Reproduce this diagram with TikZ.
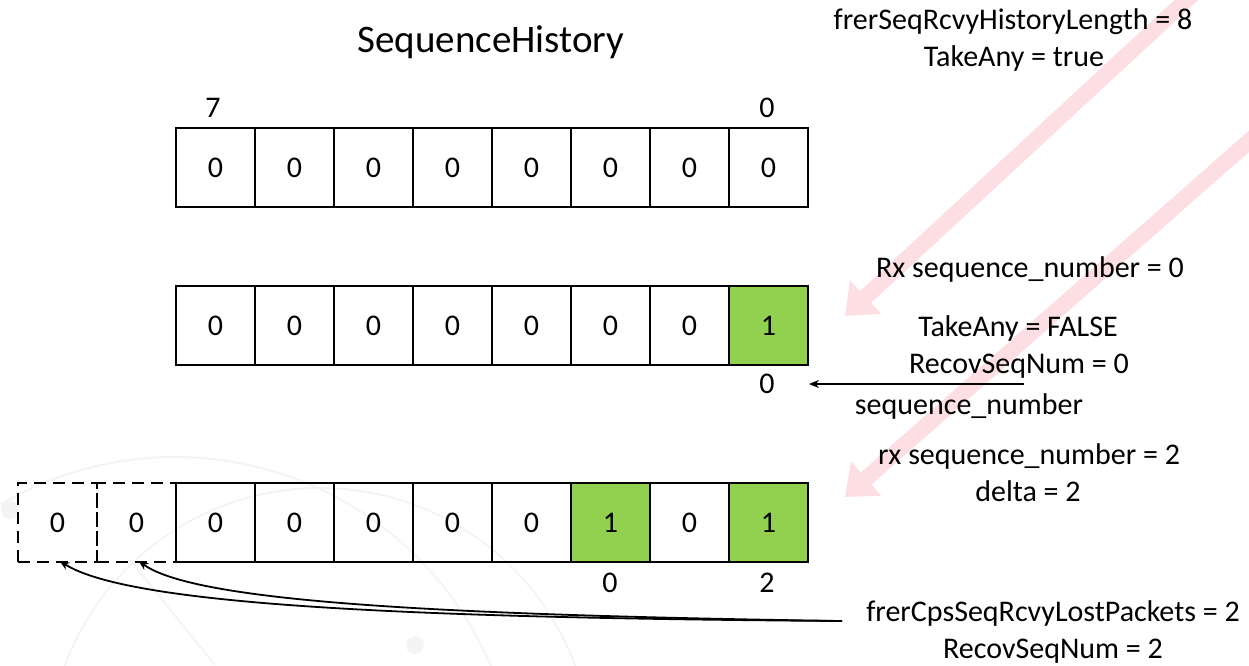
\documentclass[tikz,border=0pt]{standalone}
\usepackage{fontspec}
\setmainfont{Carlito}
\usetikzlibrary{arrows.meta}
\definecolor{cellgreen}{RGB}{146,208,80}
\definecolor{pinkarrow}{RGB}{252,222,227}
\definecolor{wmark}{RGB}{244,244,244}
\begin{document}
\begin{tikzpicture}[x=1pt,y=-1pt,
  cell/.style={draw, line width=1.6pt, minimum width=79pt, minimum height=79pt, inner sep=0pt,
    font=\fontsize{30}{37}\selectfont},
  dcell/.style={cell, dash pattern=on 12pt off 7pt},
  lbl/.style={inner sep=0pt, text height=21pt, text depth=6pt, font=\fontsize{30}{37}\selectfont},
  ttl/.style={inner sep=0pt, font=\fontsize{39}{46}\selectfont},
  pinkarr/.style={draw=pinkarrow, line width=16pt, -{Triangle[length=28pt,width=44pt]}, color=pinkarrow},
  curv/.style={draw, line width=1.8pt, -{Stealth[length=10pt,width=8pt]}},
  seqarr/.style={draw, line width=1.6pt, -{Stealth[length=10pt,width=8pt]}},
  wm/.style={draw=wmark, line width=2pt}
]
\useasboundingbox (0,0) rectangle (1249,665);

% faint background watermark
\begin{scope}
  \clip (0,0) rectangle (1249,665);
  \draw[wm] (175,800) circle[radius=343];
  \draw[wm] (320,760) circle[radius=272];
  \draw[wm] (130,560) -- (215,665);
  \fill[wmark] (10,510) circle[radius=9];
  \fill[wmark] (415,645) circle[radius=9];
\end{scope}

% pink arrows
\coordinate (p1s) at (1195,-8);
\coordinate (p1e) at (845,316);
\coordinate (p2s) at (1264,128);
\coordinate (p2e) at (845,497);
\draw[pinkarr] (p1s) -- (p1e);
\draw[pinkarr] (p2s) -- (p2e);

% title
\node[ttl] (title) at (491,42) {SequenceHistory};

% row 1
\foreach \i in {1,...,8}
  \node[cell] (a\i) at ({215.5+79*(\i-1)},167.5) {0};
\node[lbl] (a7lbl) at (213,110) {7};
\node[lbl] (a0lbl) at (767,110) {0};

% row 2
\foreach \i in {1,...,7}
  \node[cell] (b\i) at ({215.5+79*(\i-1)},325.5) {0};
\node[cell, fill=cellgreen] (b8) at ({215.5+79*7},325.5) {1};
\node[lbl] (b0lbl) at (767,386) {0};

% row 3
\node[dcell] (c1) at (57.5,522.5) {0};
\node[dcell] (c2) at (136.5,522.5) {0};
\foreach \i in {3,...,7}
  \node[cell] (c\i) at ({57.5+79*(\i-1)},522.5) {0};
\node[cell, fill=cellgreen] (c8) at ({57.5+79*7},522.5) {1};
\node[cell] (c9) at ({57.5+79*8},522.5) {0};
\node[cell, fill=cellgreen] (c10) at ({57.5+79*9},522.5) {1};
\node[lbl] (c0lbl) at (610,585) {0};
\node[lbl] (c2lbl) at (767,585) {2};

% right-hand texts
\node[lbl] (histlen) at (1013,22) {frerSeqRcvyHistoryLength = 8};
\node[lbl] (takeany) at (1014,59) {TakeAny = true};
\node[lbl] (rx0) at (1030,270) {Rx sequence\_number = 0};
\node[lbl] (takefalse) at (1018,329) {TakeAny = FALSE};
\node[lbl] (recov0) at (1019,366) {RecovSeqNum = 0};
\node[lbl] (seqnum) at (969,407) {sequence\_number};
\node[lbl] (rx2) at (1029,457) {rx sequence\_number = 2};
\node[lbl] (delta) at (1028,494) {delta = 2};
\node[lbl] (lost) at (1053,614) {frerCpsSeqRcvyLostPackets = 2};
\node[lbl] (recov2) at (1053,651) {RecovSeqNum = 2};

% sequence_number pointer
\coordinate (seqS) at (1024,384);
\coordinate (seqE) at (809,384);
\draw[seqarr] (seqS) -- (seqE);

% lost packet arrows
\coordinate (lostS) at (842,621);
\draw[curv] (lostS) .. controls (420,618) and (130,606) .. ([xshift=2pt,yshift=2pt]c1.south);
\draw[curv] (lostS) .. controls (440,615) and (195,602) .. ([xshift=2pt,yshift=2pt]c2.south);
\end{tikzpicture}
\end{document}
